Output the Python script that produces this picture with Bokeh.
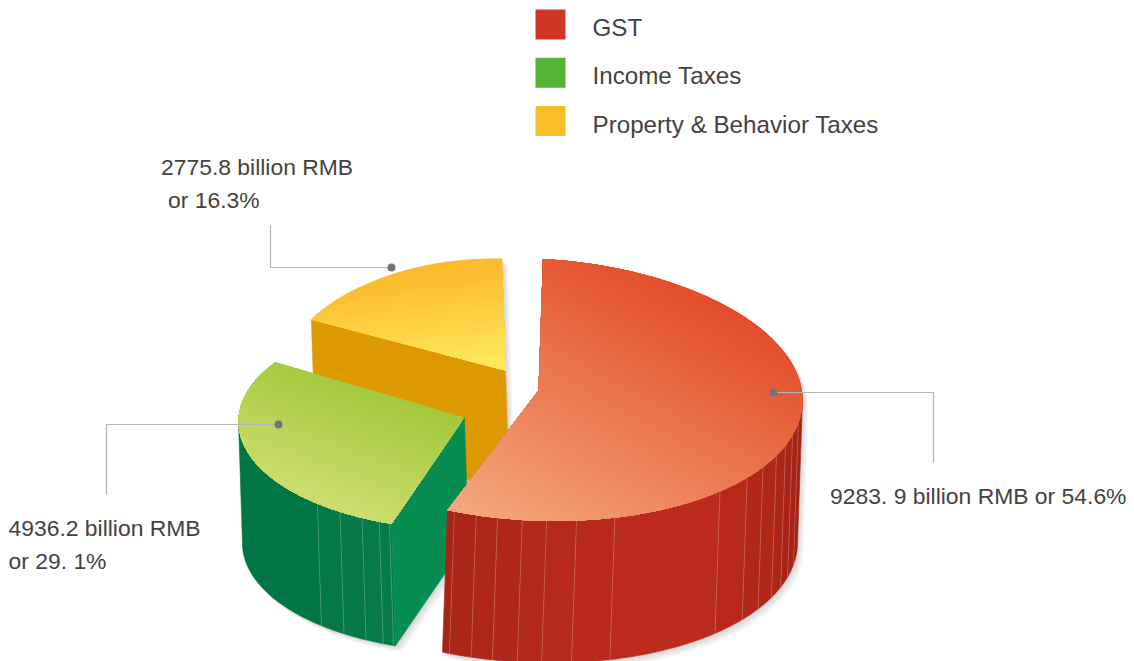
import numpy as np
from bokeh.core.properties import value
from bokeh.embed import file_html
from bokeh.models import Range1d
from bokeh.plotting import figure
from bokeh.resources import INLINE

# Tax revenue by group, billion RMB
categories = ["GST", "Income Taxes", "Property & Behavior Taxes"]
revenue = [9283.9, 4936.2, 2775.8]
legend_colors = ["#d13525", "#54b435", "#fbbc2a"]

callout_lines = [
    ["9283. 9 billion RMB or 54.6%"],
    ["4936.2 billion RMB", "or 29. 1%"],
    ["2775.8 billion RMB", "or 16.3%"],
]

FONT = "Liberation Sans"
TEXT_COLOR = "#464141"
START_ANGLE = 2.0  # clockwise from the back of the pie

# Layout of each exploded slice on the page (pixels, y down)
slices = [
    dict(cx=533, cy=389, a=269, b=131, tilt=0.04, apex=(538, 390), drop=(-5, 142),
         top=("#e34a27", "#f4a77c"), axis=(-0.48, 0.88), origin=(720, 290), span=314,
         cut_color=None,
         front_from=90.0, front_to=None,
         ribs=[100, 105.6, 110.4, 115.4, 121.4, 127.4, 136.1, 162.4, 170.8, 177.2,
               182.4, 187.7, 192.3, 197.1],
         walls=["#a22214", "#a62315", "#a92417", "#ad2518", "#b02619", "#b3271a", "#b8291c",
                "#bc2b1e", "#b9291c", "#b7291c", "#b4281b", "#b1271a", "#ae2619", "#ab2518",
                "#a72316"]),
    dict(cx=463, cy=421, a=225, b=108, tilt=0.0, apex=(464, 417), drop=(4, 122),
         top=("#a3c83c", "#cbdc6c"), axis=(-0.35, 0.94), origin=(464, 417), span=125,
         cut_color="#078c52",
         front_from=None, front_to=270.0,
         ribs=[199.2, 202, 206.8, 213.3, 220.5],
         walls=["#077c4b", "#067b4a", "#067a49", "#057948", "#047846", "#007644"]),
    dict(cx=494, cy=393, a=219, b=135, tilt=0.0, apex=(505, 370), drop=(4, 120),
         top=("#fbbc2e", "#ffe85c"), axis=(0.12, 0.99), origin=(501, 268), span=92,
         cut_color="#dc9900",
         front_from=None, front_to=None,
         ribs=[], walls=[]),
]

# Callout leader lines and dots
leaders = [
    dict(xs=[773, 933, 933], ys=[392, 392, 462]),
    dict(xs=[278, 106, 106], ys=[424, 424, 494]),
    dict(xs=[391, 270, 270], ys=[267, 267, 225]),
]
label_x = [[829.5], [8, 8], [160.5, 167.5]]
label_y = [[495], [527, 560], [166, 199]]

p = figure(width=1134, height=661, output_backend="svg", toolbar_location=None,
           x_range=Range1d(0, 1134), y_range=Range1d(661, 0),
           x_axis_type=None, y_axis_type=None, min_border=0,
           outline_line_color=None, background_fill_color="white")
p.grid.visible = False


def rim(s, theta):
    t = np.radians(theta)
    x = s["cx"] + s["a"] * np.sin(t)
    y = s["cy"] - s["b"] * np.cos(t) + s["tilt"] * (x - s["cx"])
    return x, y


def mix(c0, c1, f):
    a = [int(c0[i:i + 2], 16) for i in (1, 3, 5)]
    b = [int(c1[i:i + 2], 16) for i in (1, 3, 5)]
    return "#%02x%02x%02x" % tuple(round(u + (v - u) * f) for u, v in zip(a, b))


def clip_halfplane(xs, ys, axis, level):
    """Keep the part of a polygon where the projection on axis is at least level."""
    out_x, out_y = [], []
    n = len(xs)
    d = [xs[i] * axis[0] + ys[i] * axis[1] - level for i in range(n)]
    for i in range(n):
        j = (i + 1) % n
        if d[i] >= 0:
            out_x.append(float(xs[i]))
            out_y.append(float(ys[i]))
        if (d[i] >= 0) != (d[j] >= 0):
            f = d[i] / (d[i] - d[j])
            out_x.append(float(xs[i] + f * (xs[j] - xs[i])))
            out_y.append(float(ys[i] + f * (ys[j] - ys[i])))
    return out_x, out_y


total = sum(revenue)
edges = START_ANGLE + np.concatenate([[0], np.cumsum(revenue)]) / total * 360

shadow_x, shadow_y = [], []
layers = []
for i, s in enumerate(slices):
    start, end = edges[i], edges[i + 1]
    dx, dy = s["drop"]
    th = np.linspace(start, end, 160)
    rx, ry = rim(s, th)
    top_x = [float(s["apex"][0]), *map(float, rx)]
    top_y = [float(s["apex"][1]), *map(float, ry)]

    # Side wall facets along the front part of the rim
    face_x, face_y, face_c = [], [], []
    if s["walls"]:
        stops = [s["front_from"] or start, *s["ribs"], s["front_to"] or end]
        for k, color in enumerate(s["walls"]):
            fx, fy = rim(s, np.linspace(stops[k], stops[k + 1], 30))
            face_x.append([*map(float, fx), *map(float, (fx + dx)[::-1])])
            face_y.append([*map(float, fy), *map(float, (fy + dy)[::-1])])
            face_c.append(color)

    # Flat face exposed by pulling the slice out, along its leading edge
    cut_x, cut_y = None, None
    if s["cut_color"]:
        ex, ey = rim(s, np.array([start]))
        ax, ay = float(s["apex"][0]), float(s["apex"][1])
        ex0, ey0 = float(ex[0]), float(ey[0])
        cut_x = [ex0, ax, ax + dx, ex0 + dx]
        cut_y = [ey0, ay, ay + dy, ey0 + dy]

    # Soft shadow shapes
    for shape_x, shape_y in [(top_x, top_y), *zip(face_x, face_y)] + ([(cut_x, cut_y)] if cut_x else []):
        shadow_x.append(shape_x)
        shadow_y.append(shape_y)

    # Top face gradient painted as stacked half-plane clips
    bx, by, bc = [], [], []
    steps = 48
    o = s["origin"][0] * s["axis"][0] + s["origin"][1] * s["axis"][1]
    for k in range(steps):
        f = k / (steps - 1)
        lev = o + (f * s["span"] if k else -1e4)
        clip_x, clip_y = clip_halfplane(top_x, top_y, s["axis"], lev)
        if clip_x:
            bx.append(clip_x)
            by.append(clip_y)
            bc.append(mix(s["top"][0], s["top"][1], f))

    # Rib lines between facets
    rib_x, rib_y = [], []
    for r in s["ribs"]:
        ux, uy = rim(s, np.array([r]))
        rib_x.append([float(ux[0]), float(ux[0]) + dx])
        rib_y.append([float(uy[0]), float(uy[0]) + dy])

    layers.append(dict(face=(face_x, face_y, face_c), cut=(cut_x, cut_y, s["cut_color"]),
                       top=(bx, by, bc), rib=(rib_x, rib_y)))

for step in range(1, 8):
    p.patches([[v + step * 0.9 for v in xs] for xs in shadow_x],
              [[v + step for v in ys] for ys in shadow_y],
              fill_color="black", fill_alpha=0.022, line_color=None)

# Back slices first so the front ones overlap them
for layer in reversed(layers):
    fx, fy, fc = layer["face"]
    if fx:
        p.patches(fx, fy, fill_color=fc, line_color=fc, line_width=0.6)
    cut_xs, cut_ys, cut_color = layer["cut"]
    if cut_xs:
        p.patches([cut_xs], [cut_ys], fill_color=cut_color, line_color=cut_color, line_width=0.4)
    rx_, ry_ = layer["rib"]
    if rx_:
        p.multi_line(rx_, ry_, line_color="white", line_alpha=0.22, line_width=1)
    bx, by, bc = layer["top"]
    p.patches(bx, by, fill_color=bc, line_color=None)

for leader in leaders:
    p.line(leader["xs"], leader["ys"], line_color="#b4b4b4", line_width=1.2)
    p.scatter([leader["xs"][0]], [leader["ys"][0]], size=8, fill_color="#737373", line_color=None)

# Callout labels
for lines, xs, ys in zip(callout_lines, label_x, label_y):
    p.text(xs, ys, text=lines, text_font=value(FONT), text_font_size="22.9px",
           text_color=TEXT_COLOR, text_baseline="alphabetic")

# Key
for i, (name, color) in enumerate(zip(categories, legend_colors)):
    row = 24 + i * 48.3
    p.rect([550], [row], width=30, height=30, fill_color=color, line_color=None)
    p.text([592], [row + 3], text=[name], text_font=value(FONT), text_font_size="24.2px",
           text_color=TEXT_COLOR, text_baseline="alphabetic")

open("out.html", "w").write(file_html(p, INLINE))
